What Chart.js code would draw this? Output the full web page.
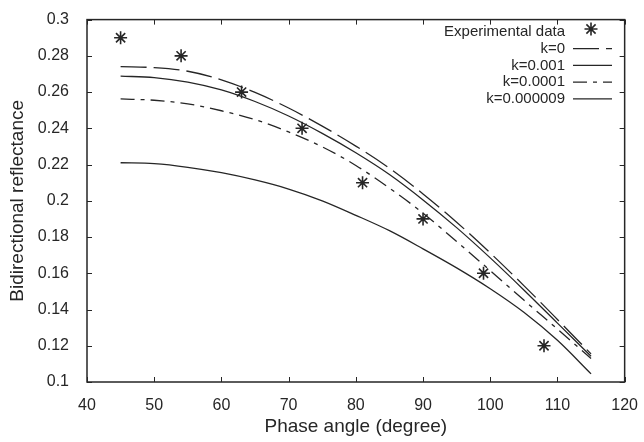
<!DOCTYPE html>
<html lang="en">
<head>
  <meta charset="UTF-8">
  <title>Bidirectional reflectance</title>
  <script src="https://cdn.jsdelivr.net/npm/chart.js"></script>
  <style>
    html, body { margin: 0; padding: 0; background: #fff; }
    .wrap { width: 644px; height: 442px; }
  </style>
</head>
<body>
  <div class="wrap"><canvas id="chart" width="644" height="442"></canvas></div>

  <script>
    // experimental points
    const expAngle = [45, 54, 63, 72, 81, 90, 99, 108];
    const expValue = [0.29, 0.28, 0.26, 0.24, 0.21, 0.19, 0.16, 0.12];

    // model curves
    const curveAngle = [45, 50, 55, 60, 65, 70, 75, 80, 85, 90, 95, 100, 105, 110, 115];
    const k0 = [0.274, 0.2735, 0.2715, 0.2668, 0.2598, 0.2512, 0.2412, 0.2302, 0.218, 0.2038, 0.1882, 0.1712, 0.1532, 0.1345, 0.1155];
    const k001 = [0.2688, 0.268, 0.2655, 0.2612, 0.2548, 0.2468, 0.2372, 0.2265, 0.2145, 0.2005, 0.1852, 0.1685, 0.1508, 0.1325, 0.1142];
    const k0001 = [0.2562, 0.2555, 0.2535, 0.2497, 0.2448, 0.238, 0.2298, 0.2195, 0.207, 0.1932, 0.1775, 0.1615, 0.1452, 0.1292, 0.113];
    const k000009 = [0.221, 0.2205, 0.2185, 0.2155, 0.2115, 0.2065, 0.2, 0.192, 0.1835, 0.1735, 0.163, 0.1515, 0.1385, 0.123, 0.1045];

    const seriesNames = ['Experimental data', 'k=0', 'k=0.001', 'k=0.0001', 'k=0.000009'];
    const xTicks = [40, 50, 60, 70, 80, 90, 100, 110, 120];
    const yTicks = [0.1, 0.12, 0.14, 0.16, 0.18, 0.2, 0.22, 0.24, 0.26, 0.28, 0.3];

    const ink = '#262626';
    const fontFamily = '"Liberation Sans", Arial, sans-serif';

    function pts(xs, ys) {
      return xs.map((x, i) => ({ x: x, y: ys[i] }));
    }

    function lineSet(label, ys, dash) {
      return {
        label: label,
        data: pts(curveAngle, ys),
        borderColor: ink,
        borderWidth: 1.3,
        borderDash: dash,
        pointRadius: 0,
        fill: false,
        cubicInterpolationMode: 'monotone'
      };
    }

    // frame with inward ticks on all four sides (gnuplot style)
    const framePlugin = {
      id: 'frame',
      afterDraw(chart) {
        const ctx = chart.ctx;
        const a = chart.chartArea;
        const xs = chart.scales.x, ys = chart.scales.y;
        ctx.save();
        ctx.strokeStyle = ink;
        ctx.lineWidth = 1.5;
        ctx.strokeRect(a.left, a.top, a.right - a.left, a.bottom - a.top);
        ctx.lineWidth = 1;
        ctx.beginPath();
        xTicks.forEach(v => {
          const px = Math.round(xs.getPixelForValue(v)) + 0.5;
          ctx.moveTo(px, a.bottom); ctx.lineTo(px, a.bottom - 5);
          ctx.moveTo(px, a.top); ctx.lineTo(px, a.top + 5);
        });
        yTicks.forEach(v => {
          const py = Math.round(ys.getPixelForValue(v)) + 0.5;
          ctx.moveTo(a.left, py); ctx.lineTo(a.left + 5, py);
          ctx.moveTo(a.right, py); ctx.lineTo(a.right - 5, py);
        });
        ctx.stroke();

        // legend, text right aligned with the sample on its right
        ctx.font = '15px ' + fontFamily;
        ctx.fillStyle = ink;
        ctx.textAlign = 'right';
        ctx.textBaseline = 'middle';
        chart.data.datasets.forEach((ds, i) => {
          const y = 32 + i * 16.7;
          ctx.fillText(ds.label, 565, y);
          if (i === 0) {
            const r = 6.5;
            const cx = 591, cy = y - 3;
            ctx.beginPath();
            for (let k = 0; k < 4; k++) {
              const ang = k * Math.PI / 4;
              ctx.moveTo(cx - r * Math.cos(ang), cy - r * Math.sin(ang));
              ctx.lineTo(cx + r * Math.cos(ang), cy + r * Math.sin(ang));
            }
            ctx.lineWidth = 1.6;
            ctx.stroke();
          } else {
            ctx.beginPath();
            ctx.setLineDash(ds.borderDash || []);
            ctx.lineWidth = ds.borderWidth;
            ctx.moveTo(573, y);
            ctx.lineTo(612, y);
            ctx.stroke();
            ctx.setLineDash([]);
          }
        });
        ctx.restore();
      }
    };

    new Chart(document.getElementById('chart'), {
      type: 'line',
      data: {
        datasets: [
          {
            label: seriesNames[0],
            data: pts(expAngle, expValue),
            showLine: false,
            pointStyle: 'star',
            pointRadius: 6.5,
            pointBorderWidth: 1.6,
            borderColor: ink,
            backgroundColor: ink
          },
          lineSet(seriesNames[1], k0, [26, 7]),
          lineSet(seriesNames[2], k001, []),
          lineSet(seriesNames[3], k0001, [14, 6, 4, 6]),
          lineSet(seriesNames[4], k000009, [])
        ]
      },
      options: {
        responsive: false,
        animation: false,
        layout: { padding: { left: 0, top: 15, right: 13, bottom: 0 } },
        plugins: {
          legend: { display: false },
          tooltip: { enabled: false }
        },
        scales: {
          x: {
            type: 'linear',
            min: 40,
            max: 120,
            afterFit(scale) { scale.height = 60; },
            afterBuildTicks(scale) { scale.ticks = xTicks.map(v => ({ value: v })); },
            grid: { display: false },
            border: { display: false },
            ticks: {
              color: ink,
              padding: 6,
              maxRotation: 0,
              font: { family: fontFamily, size: 16 }
            },
            title: {
              display: true,
              text: 'Phase angle (degree)',
              color: ink,
              padding: { top: 0, bottom: 3.6 },
              font: { family: fontFamily, size: 19 }
            }
          },
          y: {
            type: 'linear',
            min: 0.1,
            max: 0.3,
            afterFit(scale) { scale.width = 87; },
            afterBuildTicks(scale) { scale.ticks = yTicks.map(v => ({ value: v })); },
            grid: { display: false },
            border: { display: false },
            ticks: {
              color: ink,
              padding: 10,
              font: { family: fontFamily, size: 16 },
              callback: v => String(Math.round(v * 100) / 100)
            },
            title: {
              display: true,
              text: 'Bidirectional reflectance',
              color: ink,
              padding: { top: 6.6, bottom: 0 },
              font: { family: fontFamily, size: 19 }
            }
          }
        }
      },
      plugins: [framePlugin]
    });
  </script>
</body>
</html>
